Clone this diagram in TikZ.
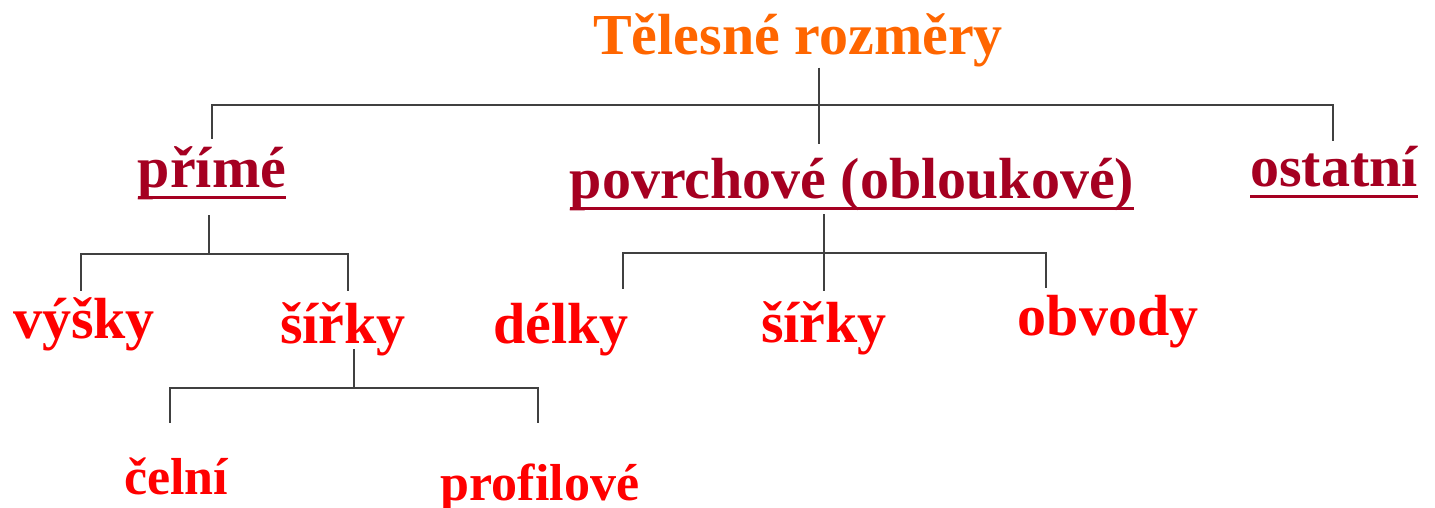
\documentclass[tikz,border=0pt]{standalone}
\usepackage{fontspec}
\setmainfont{Liberation Serif}[Ligatures=CommonOff]
\usepackage{tikz}
\usepackage{xcolor}
\usetikzlibrary{calc}
\definecolor{cTitle}{RGB}{255,102,0}
\definecolor{cGroup}{RGB}{165,0,33}
\definecolor{cLeaf}{RGB}{255,0,0}
\definecolor{cLine}{RGB}{64,64,64}
\tikzset{
    title/.style={anchor=base, inner sep=0pt, text=cTitle, font=\fontsize{58}{60}\selectfont\bfseries},
    group/.style={anchor=base, inner sep=0pt, text=cGroup, font=\fontsize{58}{60}\selectfont\bfseries},
    leaf/.style ={anchor=base, inner sep=0pt, text=cLeaf, font=\fontsize{58}{60}\selectfont\bfseries},
    subleaf/.style={anchor=base, inner sep=0pt, text=cLeaf, font=\fontsize{52}{54}\selectfont\bfseries},
    conn/.style ={draw=cLine, line width=1.5pt},
    uline/.style={draw=cGroup, line width=3.5pt},
}

\begin{document}
\begin{tikzpicture}[x=1pt, y=-1pt]
    \useasboundingbox (0,0) rectangle (1435,508);
    % texts
    \node[title] (tit) at (798,55) {Tělesné rozměry};
    \node[group] (prime) at (212,187) {přímé};
    \node[group] (povrch) at (852,198) {povrchové (obloukové)};
    \node[group] (ostat) at (1334,186) {ostatní};
    \node[leaf] (vysky) at (84,338) {výšky};
    \node[leaf] (sirkyA) at (343,343) {šířky};
    \node[leaf] (delky) at (561,343) {délky};
    \node[leaf] (sirkyB) at (824,342) {šířky};
    \node[leaf] (obvody) at (1108,335) {obvody};
    \node[subleaf] (celni) at (176,494) {čelní};
    \node[subleaf] (profil) at (540,500) {profilové};
    % underlines
    \foreach \g in {prime, povrch, ostat}
        \draw[uline] ([yshift=-10.5pt]\g.base west) -- ([yshift=-10.5pt]\g.base east);
    % bars and drops
    \coordinate (barT) at (819,105);
    \coordinate (barP) at (209,254);
    \coordinate (barV) at (824,253);
    \coordinate (barS) at (354,388);
    \coordinate (dPrime) at (212,139);
    \coordinate (dPovrch) at (819,144);
    \coordinate (dOstat) at (1333,141);
    \coordinate (dVysky) at (81,291);
    \coordinate (dSirkyA) at (348,291);
    \coordinate (dDelky) at (623,289);
    \coordinate (dSirkyB) at (824,291);
    \coordinate (dObvody) at (1046,288);
    \coordinate (dCelni) at (170,423);
    \coordinate (dProfil) at (538,423);
    % top level
    \draw[conn] (tit.south -| barT) -- (dPovrch);
    \draw[conn] (barT) -| (dPrime);
    \draw[conn] (barT) -| (dOstat);
    % primé
    \draw[conn, shorten <=28pt] (prime.base -| barP) -- (barP);
    \draw[conn] (barP) -| (dVysky);
    \draw[conn] (barP) -| (dSirkyA);
    % povrchové
    \draw[conn, shorten <=16pt] (povrch.base -| barV) -- (barV);
    \draw[conn] (barV) -| (dDelky);
    \draw[conn] (barV) -- (dSirkyB);
    \draw[conn] (barV) -| (dObvody);
    % šířky
    \draw[conn, shorten <=6pt] (sirkyA.base -| barS) -- (barS);
    \draw[conn] (barS) -| (dCelni);
    \draw[conn] (barS) -| (dProfil);
\end{tikzpicture}
\end{document}
